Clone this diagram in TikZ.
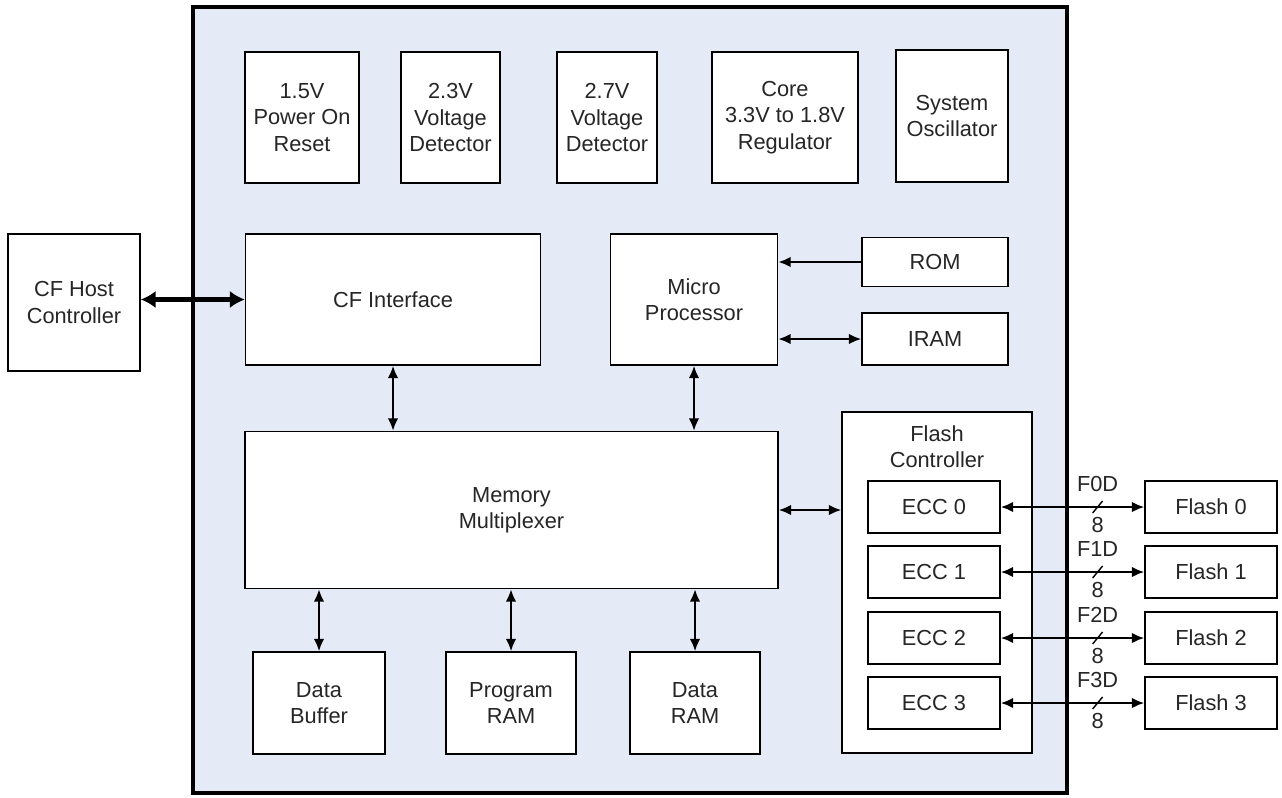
\documentclass[tikz,border=0pt]{standalone}
\usepackage{fontspec}
\setmainfont{Liberation Sans}
\usetikzlibrary{arrows.meta}
\definecolor{chipbg}{RGB}{229,235,246}
\begin{document}
\begin{tikzpicture}[x=0.02cm, y=-0.02cm]

      \tikzset{block/.style={draw, fill=white, line width=0.9pt, align=center, inner sep=0pt, font=\fontsize{12.4}{15}\selectfont, text=black!85}}
      \tikzset{wh/.style 2 args={minimum width=#1*0.02cm, minimum height=#2*0.02cm}}
      \tikzset{bus/.style={<->, > = {Latex[length=7pt, width=6pt]}, line width=1.1pt}}
      \tikzset{tag/.style={inner sep=0pt, font=\fontsize{12.4}{15}\selectfont, text=black!85}}
      \useasboundingbox (0,0) rectangle (1282,798);
%% Chip
      	\node[draw, line width=2.8pt, fill=chipbg, wh={874}{786}] (chip) at (630,400) {};
%% Blocks
      	\node[block, wh={132}{137}] (host) at (74,302.5) {CF Host\\Controller};
      	\node[block, wh={114}{131}] (por) at (302,117.5) {1.5V\\Power On\\Reset};
      	\node[block, wh={99}{131}] (vd23) at (450.5,117.5) {2.3V\\Voltage\\Detector};
      	\node[block, wh={100}{131}] (vd27) at (607,117.5) {2.7V\\Voltage\\Detector};
      	\node[block, wh={146}{131}] (reg) at (785,117.5) {Core\\3.3V to 1.8V\\Regulator};
      	\node[block, wh={112}{132}] (osc) at (952,116) {System\\Oscillator};
      	\node[block, wh={295}{131}] (cfi) at (393,299.5) {CF Interface};
      	\node[block, wh={167}{131}] (mp) at (694,299.5) {Micro\\Processor};
      	\node[block, wh={146}{49}] (rom) at (935,262) {ROM};
      	\node[block, wh={146}{52}] (iram) at (935,339) {IRAM};
      	\node[block, wh={533}{157}] (mm) at (511.5,510) {Memory\\Multiplexer};
      	\node[block, wh={132}{102}] (dbuf) at (319,703) {Data\\Buffer};
      	\node[block, wh={130}{102}] (pram) at (511,703) {Program\\RAM};
      	\node[block, wh={130}{102}] (dram) at (695,703) {Data\\RAM};
%% Flash controller
      	\node[block, wh={190}{341}] (fc) at (937,582.5) {};
      	\node[tag, align=center] (fctitle) at (937,447) {Flash\\Controller};
      	\node[block, wh={132}{52}] (ecc0) at (934,507) {ECC 0};
      	\node[block, wh={132}{52}] (ecc1) at (934,572) {ECC 1};
      	\node[block, wh={132}{52}] (ecc2) at (934,638) {ECC 2};
      	\node[block, wh={132}{52}] (ecc3) at (934,703) {ECC 3};
      	\node[block, wh={132}{52}] (flash0) at (1211,507) {Flash 0};
      	\node[block, wh={132}{52}] (flash1) at (1211,572) {Flash 1};
      	\node[block, wh={132}{52}] (flash2) at (1211,638) {Flash 2};
      	\node[block, wh={132}{52}] (flash3) at (1211,703) {Flash 3};
%Buses
		\draw [<->, > = {Latex[length=8.5pt, width=10pt]}, line width=2.3pt] (host.east |- cfi.west) -- (cfi.west);
		\draw [->, > = {Latex[length=7pt, width=6pt]}, line width=1.1pt] (rom.west) -- (rom.west -| mp.east);
		\draw [bus] (mp.east |- iram.west) -- (iram.west);
		\draw [bus] (cfi.south) -- (cfi.south |- mm.north);
		\draw [bus] (mp.south) -- (mp.south |- mm.north);
		\draw [bus] (mm.east) -- (mm.east -| fc.west);
		\draw [bus] (dbuf.north) -- (dbuf.north |- mm.south);
		\draw [bus] (pram.north) -- (pram.north |- mm.south);
		\draw [bus] (dram.north) -- (dram.north |- mm.south);
		\path [bus] (ecc0) edge node[tag, pos=0.675, above=8pt] {F0D} node[tag, pos=0.675, below=5.5pt] {8} coordinate[pos=0.675] (s0) (flash0);
		\path [bus] (ecc1) edge node[tag, pos=0.675, above=8pt] {F1D} node[tag, pos=0.675, below=5.5pt] {8} coordinate[pos=0.675] (s1) (flash1);
		\path [bus] (ecc2) edge node[tag, pos=0.675, above=8pt] {F2D} node[tag, pos=0.675, below=5.5pt] {8} coordinate[pos=0.675] (s2) (flash2);
		\path [bus] (ecc3) edge node[tag, pos=0.675, above=8pt] {F3D} node[tag, pos=0.675, below=5.5pt] {8} coordinate[pos=0.675] (s3) (flash3);
%Slashes
		\draw [line width=0.8pt] ([shift={(-5,6)}]s0) -- ([shift={(5,-6)}]s0);
		\draw [line width=0.8pt] ([shift={(-5,6)}]s1) -- ([shift={(5,-6)}]s1);
		\draw [line width=0.8pt] ([shift={(-5,6)}]s2) -- ([shift={(5,-6)}]s2);
		\draw [line width=0.8pt] ([shift={(-5,6)}]s3) -- ([shift={(5,-6)}]s3);

	\end{tikzpicture}
\end{document}
